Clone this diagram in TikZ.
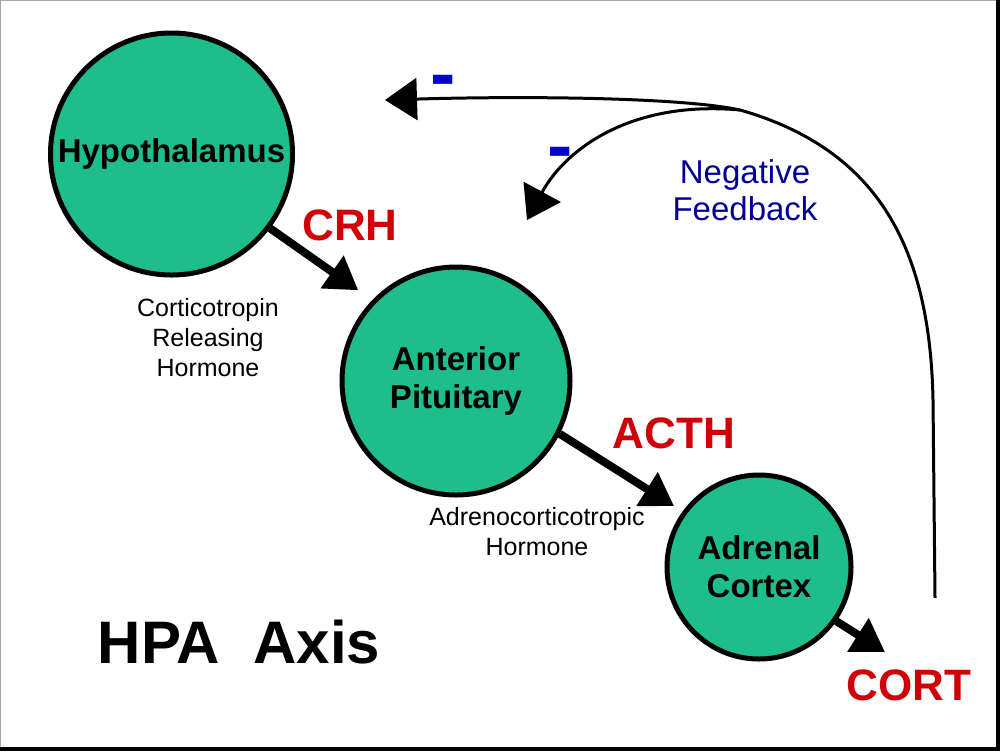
\documentclass[tikz,border=0pt]{standalone}
\usepackage{fontspec}
\setmainfont{Liberation Sans}
\usetikzlibrary{arrows.meta}
\definecolor{organgreen}{RGB}{30,190,140}
\definecolor{hormred}{RGB}{208,0,8}
\definecolor{fbblue}{RGB}{0,0,150}
\definecolor{minusblue}{RGB}{0,0,210}
\begin{document}
\begin{tikzpicture}[x=0.5pt,y=-0.5pt,
  organ/.style={circle, draw=black, line width=2.5pt, fill=organgreen, inner sep=0pt, align=center,
    font=\bfseries\fontsize{16.5}{19}\selectfont},
  hormone/.style={text=hormred, font=\bfseries\fontsize{22}{26}\selectfont, inner sep=0pt},
  fullname/.style={align=center, font=\fontsize{12.5}{15}\selectfont, inner sep=0pt},
  fbtext/.style={text=fbblue, align=center, font=\fontsize{16.5}{18.5}\selectfont, inner sep=0pt},
  minussign/.style={text=minusblue, font=\bfseries\fontsize{38}{40}\selectfont, inner sep=0pt, anchor=base},
  bigarrow/.style={line width=4pt, -{Triangle[length=16pt,width=19pt]}},
  fbarrow/.style={line width=1.5pt, -{Triangle[length=16pt,width=21pt]}}
]
\useasboundingbox (0,0) rectangle (1000,751);
\fill[white] (0,0) rectangle (1000,751);
\draw[black!35, line width=0.5pt] (0.5,748) -- (0.5,0.5) -- (997,0.5);
\draw[black, line width=2pt] (998,0) -- (998,749) -- (0,749);

% organs
\node[organ, minimum size=121pt] (hyp) at (171.5,154) {Hypothalamus};
\node[organ, minimum size=114pt] (pit) at (456,381) {Anterior\\Pituitary};
\node[organ, minimum size=92pt] (adr) at (759,567) {Adrenal\\Cortex};

% labels
\node[hormone] (crh) at (350,225) {CRH};
\node[fullname] (crhname) at (208,338) {Corticotropin\\Releasing\\Hormone};
\node[hormone] (acth) at (674,433) {ACTH};
\node[fullname] (acthname) at (537,532) {Adrenocorticotropic\\Hormone};
\node[hormone] (cort) at (909,685) {CORT};
\node[font=\bfseries\fontsize{30}{34}\selectfont, inner sep=0pt] (title) at (239,642) {HPA\ \ Axis};
\node[fbtext] (fb) at (745,190) {Negative\\Feedback};
\node[minussign] (minus1) at (443.5,99.5) {-};
\node[minussign] (minus2) at (560,171) {-};

% hormone cascade arrows
\draw[bigarrow, shorten >=8.5pt] (hyp.-37.5) -- (pit.136);
\draw[bigarrow, shorten >=5pt] (pit.-27) -- (adr.144.5);
\coordinate (cortend) at (885,652);
\draw[bigarrow] (adr.-35) -- (cortend);

% negative feedback
\coordinate (fbstart) at (935,598);
\coordinate (fbsplit) at (740,110);
\coordinate (hyptip) at (385,100);
\coordinate (pittip) at (527,220);
\draw[fbarrow] (fbstart) -- (933,400) .. controls (930,250) and (880,150) .. (fbsplit)
  .. controls (680,97) and (520,96) .. (hyptip);
\draw[fbarrow] (fbsplit) .. controls (630,100) and (565,150) .. (pittip);
\end{tikzpicture}
\end{document}
